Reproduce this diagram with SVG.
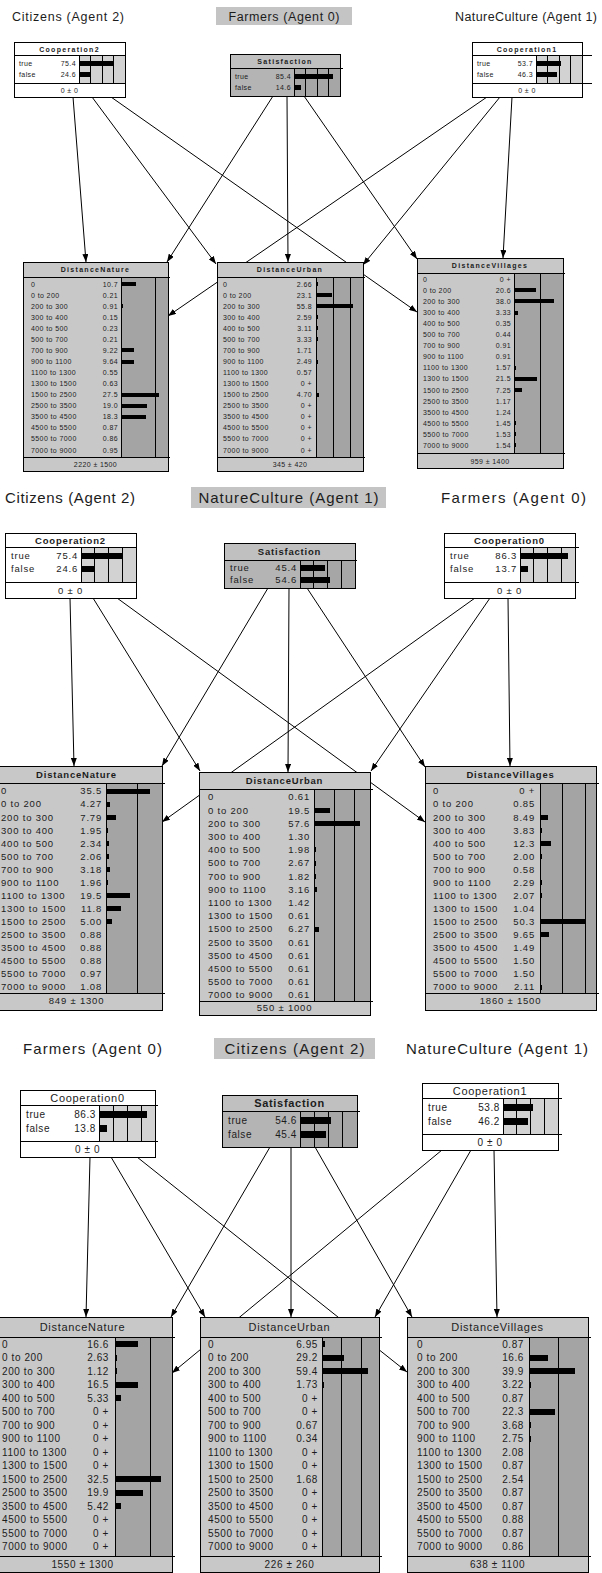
<svg xmlns="http://www.w3.org/2000/svg" width="602" height="1573" viewBox="0 0 602 1573">
<defs>
<style>
text{font-family:"Liberation Sans",Arial,sans-serif;fill:#1c1c1c}
.ttl1{font-size:12.5px}
.ttl{font-size:15px}
.mid{text-anchor:middle}
.end{text-anchor:end}
.hl{fill:#c4c4c4}
.s1{font-size:7px;letter-spacing:.4px}
.s2{font-size:9.5px;letter-spacing:.8px}
.s3{font-size:10px;letter-spacing:.6px}
.h1{font-size:7px;font-weight:bold;letter-spacing:1.3px;text-anchor:middle}
.h2{font-size:9.5px;font-weight:bold;letter-spacing:.8px;text-anchor:middle}
.h3{font-size:11px;letter-spacing:.7px;text-anchor:middle}
.lt{fill:#c8c8c8}
.dk{fill:#a4a4a4}
.wh{fill:#fff}
.cb{fill:#d2d2d2}
.sh{fill:#c0c0c0}
.sb{fill:#b4b4b4}
.sd{fill:#a6a6a6}
.ln{fill:none;stroke:#000;stroke-width:1}
.frame{fill:none;stroke:#000;stroke-width:1}
.bar{fill:#000}
rect,.ln,.bar{shape-rendering:crispEdges}
.edge path{fill:none;stroke:#000;stroke-width:1;marker-end:url(#arr)}
</style>
<marker id="arr" viewBox="0 0 8 6" refX="8" refY="3" markerWidth="8" markerHeight="6" markerUnits="userSpaceOnUse" orient="auto">
<path d="M0,0L8,3L0,6z" fill="#000"/>
</marker>
</defs>
<rect width="602" height="1573" fill="#fff"/>

<!-- agent headings -->
<g id="titles">
<text class="ttl1" x="12" y="21" textLength="112" lengthAdjust="spacing">Citizens (Agent 2)</text>
<rect class="hl" x="216" y="7" width="136" height="18"/>
<text class="ttl1 mid" x="284" y="21" textLength="111" lengthAdjust="spacing">Farmers (Agent 0)</text>
<text class="ttl1" x="455" y="21" textLength="142" lengthAdjust="spacing">NatureCulture (Agent 1)</text>

<text class="ttl" x="5" y="502.5" textLength="130" lengthAdjust="spacing">Citizens (Agent 2)</text>
<rect class="hl" x="191" y="487" width="195" height="21"/>
<text class="ttl mid" x="288.5" y="502.5" textLength="180" lengthAdjust="spacing">NatureCulture (Agent 1)</text>
<text class="ttl" x="441" y="502.5" textLength="145" lengthAdjust="spacing">Farmers (Agent 0)</text>

<text class="ttl" x="23" y="1053.5" textLength="139" lengthAdjust="spacing">Farmers (Agent 0)</text>
<rect class="hl" x="214" y="1038" width="161" height="21"/>
<text class="ttl mid" x="294.5" y="1053.5" textLength="140" lengthAdjust="spacing">Citizens (Agent 2)</text>
<text class="ttl" x="406" y="1053.5" textLength="182" lengthAdjust="spacing">NatureCulture (Agent 1)</text>
</g>

<!-- links between nodes -->
<g id="connectors" class="edge">
<path d="M73 97L86 262"/>
<path d="M92 97L216 264"/>
<path d="M111 97L417 312"/>
<path d="M273 96L167 262"/>
<path d="M287 96L288 262"/>
<path d="M304 96L417 259"/>
<path d="M487 97L168 316"/>
<path d="M500 97L363 265"/>
<path d="M512 97L503 258"/>

<path d="M70 598L74 766"/>
<path d="M93 598L200 771"/>
<path d="M117 598L425 822"/>
<path d="M268 588L162 766"/>
<path d="M289 588L288 772"/>
<path d="M307 588L425 767"/>
<path d="M475 598L162 822"/>
<path d="M490 598L371 771"/>
<path d="M508 598L510 766"/>

<path d="M90 1157L86 1317"/>
<path d="M111 1157L205 1317"/>
<path d="M137 1157L407 1372"/>
<path d="M270 1147L171 1317"/>
<path d="M291 1147L291 1317"/>
<path d="M315 1147L412 1317"/>
<path d="M442 1150L172 1373"/>
<path d="M471 1150L375 1317"/>
<path d="M494 1150L497 1317"/>
</g>

<!-- ===== panel 1 ===== -->
<g id="p1-cooperation2">
<rect class="wh" x="14" y="42" width="111" height="55"/>
<rect class="cb" x="79" y="55" width="46" height="28"/>
<path class="ln" d="M14 55H125M14 83H125M79 55V83M90.5 55V83M102 55V83M113.5 55V83"/>
<rect class="frame" x="14" y="42" width="111" height="55"/>
<text class="h1" x="69.5" y="51.5">Cooperation2</text>
<text class="s1" x="19" y="65.5">true</text>
<text class="s1" x="19" y="76.5">false</text>
<text class="s1 end" x="76" y="65.5">75.4</text>
<text class="s1 end" x="76" y="76.5">24.6</text>
<path class="bar" d="M79 60.5h34.7v5h-34.7zM79 71.5h11.3v5h-11.3z"/>
<text class="s1 mid" x="69.5" y="92.5">0 ± 0</text>
</g>

<g id="p1-satisfaction">
<rect class="sh" x="230" y="54" width="110" height="42"/>
<rect class="sb" x="230" y="68" width="64" height="28"/>
<rect class="sd" x="294" y="68" width="46" height="28"/>
<path class="ln" d="M230 68H343M294 68V96M305.5 68V96M317 68V96M328.5 68V96"/>
<rect class="frame" x="230" y="54" width="110" height="42"/>
<text class="h1" x="285" y="63.5">Satisfaction</text>
<text class="s1" x="235" y="78.5">true</text>
<text class="s1" x="235" y="89.5">false</text>
<text class="s1 end" x="291" y="78.5">85.4</text>
<text class="s1 end" x="291" y="89.5">14.6</text>
<path class="bar" d="M294 73.5h39.3v5h-39.3zM294 84.5h6.7v5h-6.7z"/>
</g>

<g id="p1-cooperation1">
<rect class="wh" x="472" y="42" width="110" height="55"/>
<rect class="cb" x="536" y="55" width="46" height="28"/>
<path class="ln" d="M472 55H592M472 83H592M536 55V83M547.5 55V83M559 55V83M570.5 55V83"/>
<rect class="frame" x="472" y="42" width="110" height="55"/>
<text class="h1" x="527" y="51.5">Cooperation1</text>
<text class="s1" x="477" y="65.5">true</text>
<text class="s1" x="477" y="76.5">false</text>
<text class="s1 end" x="533" y="65.5">53.7</text>
<text class="s1 end" x="533" y="76.5">46.3</text>
<path class="bar" d="M536 60.5h24.7v5h-24.7zM536 71.5h21.3v5h-21.3z"/>
<text class="s1 mid" x="527" y="92.5">0 ± 0</text>
</g>

<g id="p1-distance-nature">
<rect class="lt" x="23" y="262" width="145" height="209"/>
<rect class="dk" x="121" y="277" width="47" height="180"/>
<path class="ln" d="M23 277H170M23 457H170M121 277V457M155 277V457"/>
<rect class="frame" x="23" y="262" width="145" height="209"/>
<text class="h1" x="95.5" y="272">DistanceNature</text>
<text class="s1"><tspan x="31" y="286.5">0</tspan><tspan x="31" dy="11.07">0 to 200</tspan><tspan x="31" dy="11.07">200 to 300</tspan><tspan x="31" dy="11.07">300 to 400</tspan><tspan x="31" dy="11.07">400 to 500</tspan><tspan x="31" dy="11.07">500 to 700</tspan><tspan x="31" dy="11.07">700 to 900</tspan><tspan x="31" dy="11.07">900 to 1100</tspan><tspan x="31" dy="11.07">1100 to 1300</tspan><tspan x="31" dy="11.07">1300 to 1500</tspan><tspan x="31" dy="11.07">1500 to 2500</tspan><tspan x="31" dy="11.07">2500 to 3500</tspan><tspan x="31" dy="11.07">3500 to 4500</tspan><tspan x="31" dy="11.07">4500 to 5500</tspan><tspan x="31" dy="11.07">5500 to 7000</tspan><tspan x="31" dy="11.07">7000 to 9000</tspan></text>
<text class="s1 end"><tspan x="118" y="286.5">10.7</tspan><tspan x="118" dy="11.07">0.21</tspan><tspan x="118" dy="11.07">0.91</tspan><tspan x="118" dy="11.07">0.15</tspan><tspan x="118" dy="11.07">0.23</tspan><tspan x="118" dy="11.07">0.21</tspan><tspan x="118" dy="11.07">9.22</tspan><tspan x="118" dy="11.07">9.64</tspan><tspan x="118" dy="11.07">0.55</tspan><tspan x="118" dy="11.07">0.63</tspan><tspan x="118" dy="11.07">27.5</tspan><tspan x="118" dy="11.07">19.0</tspan><tspan x="118" dy="11.07">18.3</tspan><tspan x="118" dy="11.07">0.87</tspan><tspan x="118" dy="11.07">0.86</tspan><tspan x="118" dy="11.07">0.95</tspan></text>
<path class="bar" d="M121 282h14.8v4h-14.8zM121 304.1h1.5v4h-1.5zM121 348.4h12.7v4h-12.7zM121 359.5h13.3v4h-13.3zM121 392.7h38v4h-38zM121 403.8h26.2v4h-26.2zM121 414.8h25.3v4h-25.3zM121 425.9h1.2v4h-1.2zM121 437h1.2v4h-1.2zM121 448.1h1.3v4h-1.3z"/>
<text class="s1 mid" x="95.5" y="467">2220 ± 1500</text>
</g>

<g id="p1-distance-urban">
<rect class="lt" x="217" y="262" width="146" height="209"/>
<rect class="dk" x="316" y="277" width="47" height="180"/>
<path class="ln" d="M217 277H365M217 457H365M316 277V457M333 277V457M350 277V457"/>
<rect class="frame" x="217" y="262" width="146" height="209"/>
<text class="h1" x="290" y="272">DistanceUrban</text>
<text class="s1"><tspan x="223" y="286.5">0</tspan><tspan x="223" dy="11.07">0 to 200</tspan><tspan x="223" dy="11.07">200 to 300</tspan><tspan x="223" dy="11.07">300 to 400</tspan><tspan x="223" dy="11.07">400 to 500</tspan><tspan x="223" dy="11.07">500 to 700</tspan><tspan x="223" dy="11.07">700 to 900</tspan><tspan x="223" dy="11.07">900 to 1100</tspan><tspan x="223" dy="11.07">1100 to 1300</tspan><tspan x="223" dy="11.07">1300 to 1500</tspan><tspan x="223" dy="11.07">1500 to 2500</tspan><tspan x="223" dy="11.07">2500 to 3500</tspan><tspan x="223" dy="11.07">3500 to 4500</tspan><tspan x="223" dy="11.07">4500 to 5500</tspan><tspan x="223" dy="11.07">5500 to 7000</tspan><tspan x="223" dy="11.07">7000 to 9000</tspan></text>
<text class="s1 end"><tspan x="312" y="286.5">2.66</tspan><tspan x="312" dy="11.07">23.1</tspan><tspan x="312" dy="11.07">55.8</tspan><tspan x="312" dy="11.07">2.59</tspan><tspan x="312" dy="11.07">3.11</tspan><tspan x="312" dy="11.07">3.33</tspan><tspan x="312" dy="11.07">1.71</tspan><tspan x="312" dy="11.07">2.49</tspan><tspan x="312" dy="11.07">0.57</tspan><tspan x="312" dy="11.07">0 +</tspan><tspan x="312" dy="11.07">4.70</tspan><tspan x="312" dy="11.07">0 +</tspan><tspan x="312" dy="11.07">0 +</tspan><tspan x="312" dy="11.07">0 +</tspan><tspan x="312" dy="11.07">0 +</tspan><tspan x="312" dy="11.07">0 +</tspan></text>
<path class="bar" d="M316 282h1.8v4h-1.8zM316 293.1h15.5v4h-15.5zM316 304.1h37.4v4h-37.4zM316 315.2h1.7v4h-1.7zM316 326.3h2.1v4h-2.1zM316 337.4h2.2v4h-2.2zM316 348.4h1.2v4h-1.2zM316 359.5h1.7v4h-1.7zM316 392.7h3.1v4h-3.1z"/>
<text class="s1 mid" x="290" y="467">345 ± 420</text>
</g>

<g id="p1-distance-villages">
<rect class="lt" x="417" y="258" width="146" height="210"/>
<rect class="dk" x="514" y="273" width="49" height="180"/>
<path class="ln" d="M417 273H565M417 453H565M514 273V453M540 273V453"/>
<rect class="frame" x="417" y="258" width="146" height="210"/>
<text class="h1" x="490" y="268">DistanceVillages</text>
<text class="s1"><tspan x="423" y="281.8">0</tspan><tspan x="423" dy="11.07">0 to 200</tspan><tspan x="423" dy="11.07">200 to 300</tspan><tspan x="423" dy="11.07">300 to 400</tspan><tspan x="423" dy="11.07">400 to 500</tspan><tspan x="423" dy="11.07">500 to 700</tspan><tspan x="423" dy="11.07">700 to 900</tspan><tspan x="423" dy="11.07">900 to 1100</tspan><tspan x="423" dy="11.07">1100 to 1300</tspan><tspan x="423" dy="11.07">1300 to 1500</tspan><tspan x="423" dy="11.07">1500 to 2500</tspan><tspan x="423" dy="11.07">2500 to 3500</tspan><tspan x="423" dy="11.07">3500 to 4500</tspan><tspan x="423" dy="11.07">4500 to 5500</tspan><tspan x="423" dy="11.07">5500 to 7000</tspan><tspan x="423" dy="11.07">7000 to 9000</tspan></text>
<text class="s1 end"><tspan x="511" y="281.8">0 +</tspan><tspan x="511" dy="11.07">20.6</tspan><tspan x="511" dy="11.07">38.0</tspan><tspan x="511" dy="11.07">3.33</tspan><tspan x="511" dy="11.07">0.35</tspan><tspan x="511" dy="11.07">0.44</tspan><tspan x="511" dy="11.07">0.91</tspan><tspan x="511" dy="11.07">0.91</tspan><tspan x="511" dy="11.07">1.57</tspan><tspan x="511" dy="11.07">21.5</tspan><tspan x="511" dy="11.07">7.25</tspan><tspan x="511" dy="11.07">1.17</tspan><tspan x="511" dy="11.07">1.24</tspan><tspan x="511" dy="11.07">1.45</tspan><tspan x="511" dy="11.07">1.53</tspan><tspan x="511" dy="11.07">1.54</tspan></text>
<path class="bar" d="M514 288.4h21.6v4h-21.6zM514 299.4h39.9v4h-39.9zM514 310.5h3.5v4h-3.5zM514 365.9h1.6v4h-1.6zM514 376.9h22.6v4h-22.6zM514 388h7.6v4h-7.6zM514 399.1h1.2v4h-1.2zM514 410.1h1.3v4h-1.3zM514 421.2h1.5v4h-1.5zM514 432.3h1.6v4h-1.6zM514 443.4h1.6v4h-1.6z"/>
<text class="s1 mid" x="490" y="463.5">959 ± 1400</text>
</g>

<!-- ===== panel 2 ===== -->
<g id="p2-cooperation2">
<rect class="wh" x="5" y="533" width="131" height="65"/>
<rect class="cb" x="81" y="547" width="55" height="35"/>
<path class="ln" d="M5 547H136M5 582H136M81 547V582M94.75 547V582M108.5 547V582M122.25 547V582"/>
<rect class="frame" x="5" y="533" width="131" height="65"/>
<text class="h2" x="70.5" y="543.5">Cooperation2</text>
<text class="s2" x="11" y="559.4">true</text>
<text class="s2" x="11" y="572.4">false</text>
<text class="s2 end" x="78" y="559.4">75.4</text>
<text class="s2 end" x="78" y="572.4">24.6</text>
<path class="bar" d="M81 553h41.5v6h-41.5zM81 566h13.5v6h-13.5z"/>
<text class="s2 mid" x="70.5" y="593.5">0 ± 0</text>
</g>

<g id="p2-satisfaction">
<rect class="sh" x="224" y="543" width="131" height="45"/>
<rect class="sb" x="224" y="560" width="76" height="28"/>
<rect class="sd" x="300" y="560" width="55" height="28"/>
<path class="ln" d="M224 560H357M300 560V588M313.75 560V588M327.5 560V588M341.25 560V588"/>
<rect class="frame" x="224" y="543" width="131" height="45"/>
<text class="h2" x="289.5" y="555">Satisfaction</text>
<text class="s2" x="230" y="571">true</text>
<text class="s2" x="230" y="583.4">false</text>
<text class="s2 end" x="297" y="571">45.4</text>
<text class="s2 end" x="297" y="583.4">54.6</text>
<path class="bar" d="M300 564.5h25v6h-25zM300 577h30v6h-30z"/>
</g>

<g id="p2-cooperation0">
<rect class="wh" x="444" y="533" width="131" height="65"/>
<rect class="cb" x="520" y="547" width="55" height="35"/>
<path class="ln" d="M444 547H579M444 582H579M520 547V582M533.75 547V582M547.5 547V582M561.25 547V582"/>
<rect class="frame" x="444" y="533" width="131" height="65"/>
<text class="h2" x="509.5" y="543.5">Cooperation0</text>
<text class="s2" x="450" y="559.4">true</text>
<text class="s2" x="450" y="572.4">false</text>
<text class="s2 end" x="517" y="559.4">86.3</text>
<text class="s2 end" x="517" y="572.4">13.7</text>
<path class="bar" d="M520 553h47.5v6h-47.5zM520 566h7.5v6h-7.5z"/>
<text class="s2 mid" x="509.5" y="593.5">0 ± 0</text>
</g>

<g id="p2-distance-nature">
<rect class="lt" x="-9" y="766" width="171" height="244"/>
<rect class="dk" x="106" y="783" width="56" height="210"/>
<path class="ln" d="M-9 783H165M-9 993H165M106 783V993M137 783V993"/>
<rect class="frame" x="-9" y="766" width="171" height="244"/>
<text class="h2" x="76.5" y="778">DistanceNature</text>
<text class="s2"><tspan x="1" y="794.4">0</tspan><tspan x="1" dy="13.07">0 to 200</tspan><tspan x="1" dy="13.07">200 to 300</tspan><tspan x="1" dy="13.07">300 to 400</tspan><tspan x="1" dy="13.07">400 to 500</tspan><tspan x="1" dy="13.07">500 to 700</tspan><tspan x="1" dy="13.07">700 to 900</tspan><tspan x="1" dy="13.07">900 to 1100</tspan><tspan x="1" dy="13.07">1100 to 1300</tspan><tspan x="1" dy="13.07">1300 to 1500</tspan><tspan x="1" dy="13.07">1500 to 2500</tspan><tspan x="1" dy="13.07">2500 to 3500</tspan><tspan x="1" dy="13.07">3500 to 4500</tspan><tspan x="1" dy="13.07">4500 to 5500</tspan><tspan x="1" dy="13.07">5500 to 7000</tspan><tspan x="1" dy="13.07">7000 to 9000</tspan></text>
<text class="s2 end"><tspan x="102" y="794.4">35.5</tspan><tspan x="102" dy="13.07">4.27</tspan><tspan x="102" dy="13.07">7.79</tspan><tspan x="102" dy="13.07">1.95</tspan><tspan x="102" dy="13.07">2.34</tspan><tspan x="102" dy="13.07">2.06</tspan><tspan x="102" dy="13.07">3.18</tspan><tspan x="102" dy="13.07">1.96</tspan><tspan x="102" dy="13.07">19.5</tspan><tspan x="102" dy="13.07">11.8</tspan><tspan x="102" dy="13.07">5.00</tspan><tspan x="102" dy="13.07">0.88</tspan><tspan x="102" dy="13.07">0.88</tspan><tspan x="102" dy="13.07">0.88</tspan><tspan x="102" dy="13.07">0.97</tspan><tspan x="102" dy="13.07">1.08</tspan></text>
<path class="bar" d="M106 788.5h44v5h-44zM106 801.6h4v5h-4zM106 814.6h9.7v5h-9.7zM106 827.7h2.4v5h-2.4zM106 840.8h2.9v5h-2.9zM106 853.9h2.6v5h-2.6zM106 866.9h3.9v5h-3.9zM106 880h2.4v5h-2.4zM106 893.1h24.2v5h-24.2zM106 906.1h14.6v5h-14.6zM106 919.2h6.2v5h-6.2zM106 984.6h1.3v5h-1.3z"/>
<text class="s2 mid" x="76.5" y="1004.4">849 ± 1300</text>
</g>

<g id="p2-distance-urban">
<rect class="lt" x="199" y="772" width="171" height="243"/>
<rect class="dk" x="314" y="789" width="56" height="212"/>
<path class="ln" d="M199 789H373M199 1001H373M314 789V1001M334 789V1001M354 789V1001"/>
<rect class="frame" x="199" y="772" width="171" height="243"/>
<text class="h2" x="284.5" y="784">DistanceUrban</text>
<text class="s2"><tspan x="208" y="800.4">0</tspan><tspan x="208" dy="13.2">0 to 200</tspan><tspan x="208" dy="13.2">200 to 300</tspan><tspan x="208" dy="13.2">300 to 400</tspan><tspan x="208" dy="13.2">400 to 500</tspan><tspan x="208" dy="13.2">500 to 700</tspan><tspan x="208" dy="13.2">700 to 900</tspan><tspan x="208" dy="13.2">900 to 1100</tspan><tspan x="208" dy="13.2">1100 to 1300</tspan><tspan x="208" dy="13.2">1300 to 1500</tspan><tspan x="208" dy="13.2">1500 to 2500</tspan><tspan x="208" dy="13.2">2500 to 3500</tspan><tspan x="208" dy="13.2">3500 to 4500</tspan><tspan x="208" dy="13.2">4500 to 5500</tspan><tspan x="208" dy="13.2">5500 to 7000</tspan><tspan x="208" dy="13.2">7000 to 9000</tspan></text>
<text class="s2 end"><tspan x="310" y="800.4">0.61</tspan><tspan x="310" dy="13.2">19.5</tspan><tspan x="310" dy="13.2">57.6</tspan><tspan x="310" dy="13.2">1.30</tspan><tspan x="310" dy="13.2">1.98</tspan><tspan x="310" dy="13.2">2.67</tspan><tspan x="310" dy="13.2">1.82</tspan><tspan x="310" dy="13.2">3.16</tspan><tspan x="310" dy="13.2">1.42</tspan><tspan x="310" dy="13.2">0.61</tspan><tspan x="310" dy="13.2">6.27</tspan><tspan x="310" dy="13.2">0.61</tspan><tspan x="310" dy="13.2">0.61</tspan><tspan x="310" dy="13.2">0.61</tspan><tspan x="310" dy="13.2">0.61</tspan><tspan x="310" dy="13.2">0.61</tspan></text>
<path class="bar" d="M314 807.7h15.6v5h-15.6zM314 820.9h46.1v5h-46.1zM314 847.3h1.6v5h-1.6zM314 860.5h2.1v5h-2.1zM314 873.7h1.5v5h-1.5zM314 886.9h2.5v5h-2.5zM314 926.5h5v5h-5z"/>
<text class="s2 mid" x="284.5" y="1011.4">550 ± 1000</text>
</g>

<g id="p2-distance-villages">
<rect class="lt" x="425" y="766" width="171" height="244"/>
<rect class="dk" x="540" y="783" width="56" height="210"/>
<path class="ln" d="M425 783H599M425 993H599M540 783V993M562.5 783V993M585 783V993"/>
<rect class="frame" x="425" y="766" width="171" height="244"/>
<text class="h2" x="510.5" y="778">DistanceVillages</text>
<text class="s2"><tspan x="433" y="794.4">0</tspan><tspan x="433" dy="13.07">0 to 200</tspan><tspan x="433" dy="13.07">200 to 300</tspan><tspan x="433" dy="13.07">300 to 400</tspan><tspan x="433" dy="13.07">400 to 500</tspan><tspan x="433" dy="13.07">500 to 700</tspan><tspan x="433" dy="13.07">700 to 900</tspan><tspan x="433" dy="13.07">900 to 1100</tspan><tspan x="433" dy="13.07">1100 to 1300</tspan><tspan x="433" dy="13.07">1300 to 1500</tspan><tspan x="433" dy="13.07">1500 to 2500</tspan><tspan x="433" dy="13.07">2500 to 3500</tspan><tspan x="433" dy="13.07">3500 to 4500</tspan><tspan x="433" dy="13.07">4500 to 5500</tspan><tspan x="433" dy="13.07">5500 to 7000</tspan><tspan x="433" dy="13.07">7000 to 9000</tspan></text>
<text class="s2 end"><tspan x="535" y="794.4">0 +</tspan><tspan x="535" dy="13.07">0.85</tspan><tspan x="535" dy="13.07">8.49</tspan><tspan x="535" dy="13.07">3.83</tspan><tspan x="535" dy="13.07">12.3</tspan><tspan x="535" dy="13.07">2.00</tspan><tspan x="535" dy="13.07">0.58</tspan><tspan x="535" dy="13.07">2.29</tspan><tspan x="535" dy="13.07">2.07</tspan><tspan x="535" dy="13.07">1.04</tspan><tspan x="535" dy="13.07">50.3</tspan><tspan x="535" dy="13.07">9.65</tspan><tspan x="535" dy="13.07">1.49</tspan><tspan x="535" dy="13.07">1.50</tspan><tspan x="535" dy="13.07">1.50</tspan><tspan x="535" dy="13.07">2.11</tspan></text>
<path class="bar" d="M540 814.6h7.6v5h-7.6zM540 827.7h1.5v5h-1.5zM540 840.8h11.1v5h-11.1zM540 853.9h1.8v5h-1.8zM540 880h2.1v5h-2.1zM540 893.1h1.9v5h-1.9zM540 919.2h45.3v5h-45.3zM540 932.3h8.7v5h-8.7zM540 945.3h1.3v5h-1.3zM540 958.4h1.4v5h-1.4zM540 971.5h1.4v5h-1.4zM540 984.6h1.9v5h-1.9z"/>
<text class="s2 mid" x="510.5" y="1004.4">1860 ± 1500</text>
</g>

<!-- ===== panel 3 ===== -->
<g id="p3-cooperation0">
<rect class="wh" x="20" y="1090" width="135" height="67"/>
<rect class="cb" x="99" y="1105" width="56" height="36"/>
<path class="ln" d="M20 1105H158M20 1141H158M99 1105V1141M113 1105V1141M127 1105V1141M141 1105V1141"/>
<rect class="frame" x="20" y="1090" width="135" height="67"/>
<text class="h3" x="87.5" y="1101.5">Cooperation0</text>
<text class="s3" x="26" y="1117.8">true</text>
<text class="s3" x="26" y="1131.8">false</text>
<text class="s3 end" x="96" y="1117.8">86.3</text>
<text class="s3 end" x="96" y="1131.8">13.8</text>
<path class="bar" d="M99 1110.5h48.3v7h-48.3zM99 1124.5h7.7v7h-7.7z"/>
<text class="s3 mid" x="87.5" y="1153">0 ± 0</text>
</g>

<g id="p3-satisfaction">
<rect class="sh" x="222" y="1095" width="135" height="52"/>
<rect class="sb" x="222" y="1111" width="78" height="36"/>
<rect class="sd" x="300" y="1111" width="57" height="36"/>
<path class="ln" d="M222 1111H360M300 1111V1147M314.25 1111V1147M328.5 1111V1147M342.75 1111V1147"/>
<rect class="frame" x="222" y="1095" width="135" height="52"/>
<text class="h3" x="289.5" y="1106.8" font-weight="bold">Satisfaction</text>
<text class="s3" x="228" y="1123.8">true</text>
<text class="s3" x="228" y="1137.8">false</text>
<text class="s3 end" x="297" y="1123.8">54.6</text>
<text class="s3 end" x="297" y="1137.8">45.4</text>
<path class="bar" d="M300 1116.5h31.1v7h-31.1zM300 1130.5h25.9v7h-25.9z"/>
</g>

<g id="p3-cooperation1">
<rect class="wh" x="422" y="1083" width="136" height="67"/>
<rect class="cb" x="503" y="1098" width="55" height="36"/>
<path class="ln" d="M422 1098H562M422 1134H562M503 1098V1134M516.75 1098V1134M530.5 1098V1134M544.25 1098V1134"/>
<rect class="frame" x="422" y="1083" width="136" height="67"/>
<text class="h3" x="490" y="1094.5">Cooperation1</text>
<text class="s3" x="428" y="1110.8">true</text>
<text class="s3" x="428" y="1124.8">false</text>
<text class="s3 end" x="500" y="1110.8">53.8</text>
<text class="s3 end" x="500" y="1124.8">46.2</text>
<path class="bar" d="M503 1103.5h29.6v7h-29.6zM503 1117.5h25.4v7h-25.4z"/>
<text class="s3 mid" x="490" y="1146">0 ± 0</text>
</g>

<g id="p3-distance-nature">
<rect class="lt" x="-7" y="1317" width="179" height="255"/>
<rect class="dk" x="115" y="1337" width="57" height="219"/>
<path class="ln" d="M-7 1337H175M-7 1556H175M115 1337V1556M150 1337V1556"/>
<rect class="frame" x="-7" y="1317" width="179" height="255"/>
<text class="h3" x="82.5" y="1330.8">DistanceNature</text>
<text class="s3"><tspan x="2" y="1347.6">0</tspan><tspan x="2" dy="13.5">0 to 200</tspan><tspan x="2" dy="13.5">200 to 300</tspan><tspan x="2" dy="13.5">300 to 400</tspan><tspan x="2" dy="13.5">400 to 500</tspan><tspan x="2" dy="13.5">500 to 700</tspan><tspan x="2" dy="13.5">700 to 900</tspan><tspan x="2" dy="13.5">900 to 1100</tspan><tspan x="2" dy="13.5">1100 to 1300</tspan><tspan x="2" dy="13.5">1300 to 1500</tspan><tspan x="2" dy="13.5">1500 to 2500</tspan><tspan x="2" dy="13.5">2500 to 3500</tspan><tspan x="2" dy="13.5">3500 to 4500</tspan><tspan x="2" dy="13.5">4500 to 5500</tspan><tspan x="2" dy="13.5">5500 to 7000</tspan><tspan x="2" dy="13.5">7000 to 9000</tspan></text>
<text class="s3 end"><tspan x="109" y="1347.6">16.6</tspan><tspan x="109" dy="13.5">2.63</tspan><tspan x="109" dy="13.5">1.12</tspan><tspan x="109" dy="13.5">16.5</tspan><tspan x="109" dy="13.5">5.33</tspan><tspan x="109" dy="13.5">0 +</tspan><tspan x="109" dy="13.5">0 +</tspan><tspan x="109" dy="13.5">0 +</tspan><tspan x="109" dy="13.5">0 +</tspan><tspan x="109" dy="13.5">0 +</tspan><tspan x="109" dy="13.5">32.5</tspan><tspan x="109" dy="13.5">19.9</tspan><tspan x="109" dy="13.5">5.42</tspan><tspan x="109" dy="13.5">0 +</tspan><tspan x="109" dy="13.5">0 +</tspan><tspan x="109" dy="13.5">0 +</tspan></text>
<path class="bar" d="M115 1341h23.3v6h-23.3zM115 1354.5h2v6h-2zM115 1368h1.6v6h-1.6zM115 1381.5h23.2v6h-23.2zM115 1395h6v6h-6zM115 1476h45.7v6h-45.7zM115 1489.5h28v6h-28zM115 1503h6v6h-6z"/>
<text class="s3 mid" x="82.5" y="1567.6">1550 ± 1300</text>
</g>

<g id="p3-distance-urban">
<rect class="lt" x="200" y="1317" width="179" height="255"/>
<rect class="dk" x="322" y="1337" width="57" height="219"/>
<path class="ln" d="M200 1337H382M200 1556H382M322 1337V1556M341.5 1337V1556M361 1337V1556"/>
<rect class="frame" x="200" y="1317" width="179" height="255"/>
<text class="h3" x="289.5" y="1330.8">DistanceUrban</text>
<text class="s3"><tspan x="208" y="1347.6">0</tspan><tspan x="208" dy="13.5">0 to 200</tspan><tspan x="208" dy="13.5">200 to 300</tspan><tspan x="208" dy="13.5">300 to 400</tspan><tspan x="208" dy="13.5">400 to 500</tspan><tspan x="208" dy="13.5">500 to 700</tspan><tspan x="208" dy="13.5">700 to 900</tspan><tspan x="208" dy="13.5">900 to 1100</tspan><tspan x="208" dy="13.5">1100 to 1300</tspan><tspan x="208" dy="13.5">1300 to 1500</tspan><tspan x="208" dy="13.5">1500 to 2500</tspan><tspan x="208" dy="13.5">2500 to 3500</tspan><tspan x="208" dy="13.5">3500 to 4500</tspan><tspan x="208" dy="13.5">4500 to 5500</tspan><tspan x="208" dy="13.5">5500 to 7000</tspan><tspan x="208" dy="13.5">7000 to 9000</tspan></text>
<text class="s3 end"><tspan x="318" y="1347.6">6.95</tspan><tspan x="318" dy="13.5">29.2</tspan><tspan x="318" dy="13.5">59.4</tspan><tspan x="318" dy="13.5">1.73</tspan><tspan x="318" dy="13.5">0 +</tspan><tspan x="318" dy="13.5">0 +</tspan><tspan x="318" dy="13.5">0.67</tspan><tspan x="318" dy="13.5">0.34</tspan><tspan x="318" dy="13.5">0 +</tspan><tspan x="318" dy="13.5">0 +</tspan><tspan x="318" dy="13.5">1.68</tspan><tspan x="318" dy="13.5">0 +</tspan><tspan x="318" dy="13.5">0 +</tspan><tspan x="318" dy="13.5">0 +</tspan><tspan x="318" dy="13.5">0 +</tspan><tspan x="318" dy="13.5">0 +</tspan></text>
<path class="bar" d="M322 1341h2.5v6h-2.5zM322 1354.5h22v6h-22zM322 1368h45.5v6h-45.5zM322 1381.5h1.5v6h-1.5z"/>
<text class="s3 mid" x="289.5" y="1567.6">226 ± 260</text>
</g>

<g id="p3-distance-villages">
<rect class="lt" x="407" y="1317" width="181" height="255"/>
<rect class="dk" x="529" y="1337" width="59" height="219"/>
<path class="ln" d="M407 1337H591M407 1556H591M529 1337V1556M558 1337V1556"/>
<rect class="frame" x="407" y="1317" width="181" height="255"/>
<text class="h3" x="497.5" y="1330.8">DistanceVillages</text>
<text class="s3"><tspan x="417" y="1347.6">0</tspan><tspan x="417" dy="13.5">0 to 200</tspan><tspan x="417" dy="13.5">200 to 300</tspan><tspan x="417" dy="13.5">300 to 400</tspan><tspan x="417" dy="13.5">400 to 500</tspan><tspan x="417" dy="13.5">500 to 700</tspan><tspan x="417" dy="13.5">700 to 900</tspan><tspan x="417" dy="13.5">900 to 1100</tspan><tspan x="417" dy="13.5">1100 to 1300</tspan><tspan x="417" dy="13.5">1300 to 1500</tspan><tspan x="417" dy="13.5">1500 to 2500</tspan><tspan x="417" dy="13.5">2500 to 3500</tspan><tspan x="417" dy="13.5">3500 to 4500</tspan><tspan x="417" dy="13.5">4500 to 5500</tspan><tspan x="417" dy="13.5">5500 to 7000</tspan><tspan x="417" dy="13.5">7000 to 9000</tspan></text>
<text class="s3 end"><tspan x="524" y="1347.6">0.87</tspan><tspan x="524" dy="13.5">16.6</tspan><tspan x="524" dy="13.5">39.9</tspan><tspan x="524" dy="13.5">3.22</tspan><tspan x="524" dy="13.5">0.87</tspan><tspan x="524" dy="13.5">22.3</tspan><tspan x="524" dy="13.5">3.68</tspan><tspan x="524" dy="13.5">2.75</tspan><tspan x="524" dy="13.5">2.08</tspan><tspan x="524" dy="13.5">0.87</tspan><tspan x="524" dy="13.5">2.54</tspan><tspan x="524" dy="13.5">0.87</tspan><tspan x="524" dy="13.5">0.87</tspan><tspan x="524" dy="13.5">0.88</tspan><tspan x="524" dy="13.5">0.87</tspan><tspan x="524" dy="13.5">0.86</tspan></text>
<path class="bar" d="M529 1354.5h19v6h-19zM529 1368h45.7v6h-45.7zM529 1381.5h1.5v6h-1.5zM529 1408.5h25.5v6h-25.5zM529 1422h2v6h-2zM529 1435.5h1.5v6h-1.5z"/>
<text class="s3 mid" x="497.5" y="1567.6">638 ± 1100</text>
</g>
</svg>
